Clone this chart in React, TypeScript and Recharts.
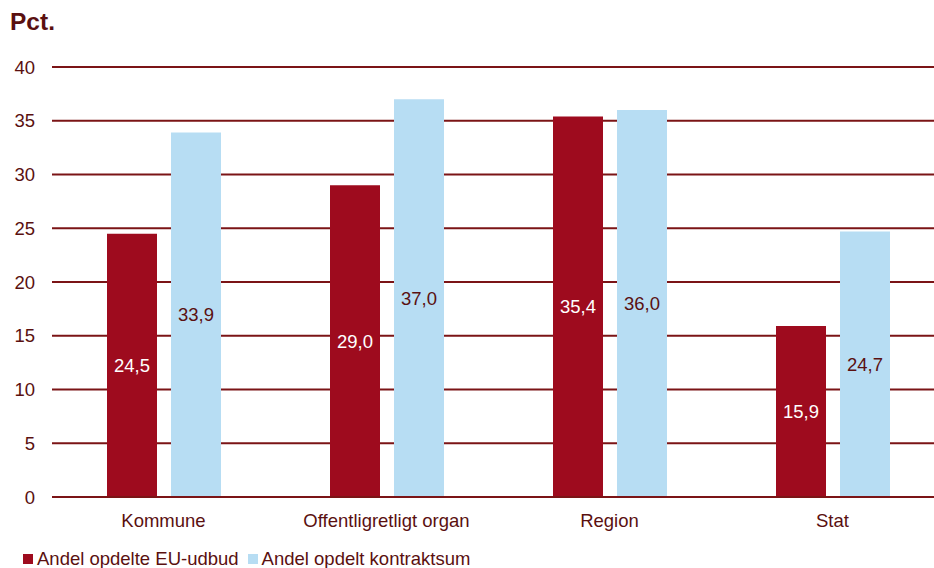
import React from "react"
import { Bar, BarChart, CartesianGrid, LabelList, XAxis, YAxis } from "recharts"

const categories = ["Kommune", "Offentligretligt organ", "Region", "Stat"]
const andelUdbud = [24.5, 29.0, 35.4, 15.9]
const andelKontraktsum = [33.9, 37.0, 36.0, 24.7]
const yTicks = [0, 5, 10, 15, 20, 25, 30, 35, 40]

const RED = "#9e0b1e"
const LIGHT = "#b7ddf3"
const TEXT = "#5a1010"
const GRID = "#7b1416"
const FONT = "'Liberation Sans', Arial, sans-serif"
const FS = 18.5

const data = categories.map((name, i) => ({
    name,
    udbud: andelUdbud[i],
    kontrakt: andelKontraktsum[i],
}))

const fmt = (v: any) => Number(v).toFixed(1).replace(".", ",")

export default function App() {
    return (
        <div
            style={{
                position: "absolute",
                left: 0,
                top: 0,
                width: 934,
                height: 568,
                overflow: "hidden",
                background: "#fff",
                fontFamily: FONT,
            }}
        >
            <div style={{ position: "absolute", left: 10, top: 8, fontSize: 24.5, fontWeight: "bold", color: TEXT }}>
                Pct.
            </div>
            {/* plot runs a little past the right edge, like the original */}
            <BarChart
                width={944}
                height={568}
                data={data}
                margin={{ top: 67, right: 0, bottom: 41, left: 0 }}
                barSize={50}
                barGap={14}
            >
                <CartesianGrid vertical={false} stroke={GRID} strokeWidth={2} />
                <XAxis
                    dataKey="name"
                    height={30}
                    tickLine={false}
                    axisLine={{ stroke: GRID, strokeWidth: 2 }}
                    tick={{ fill: TEXT, fontSize: FS, fontFamily: FONT }}
                    tickMargin={11}
                />
                <YAxis
                    domain={[0, 40]}
                    ticks={yTicks}
                    width={52}
                    tickLine={false}
                    axisLine={false}
                    tickSize={0}
                    tickMargin={17}
                    tick={{ fill: TEXT, fontSize: FS, fontFamily: FONT }}
                />
                <Bar dataKey="udbud" fill={RED} isAnimationActive={false}>
                    <LabelList dataKey="udbud" position="center" formatter={fmt} fill="#ffffff" fontSize={FS} fontFamily={FONT} />
                </Bar>
                <Bar dataKey="kontrakt" fill={LIGHT} isAnimationActive={false}>
                    <LabelList dataKey="kontrakt" position="center" formatter={fmt} fill={TEXT} fontSize={FS} fontFamily={FONT} />
                </Bar>
            </BarChart>
            <div
                style={{
                    position: "absolute",
                    left: 23,
                    top: 548,
                    display: "flex",
                    alignItems: "center",
                    fontSize: FS,
                    color: TEXT,
                    lineHeight: "22px",
                }}
            >
                <span style={{ width: 10, height: 10, background: RED, marginRight: 4 }} />
                <span style={{ marginRight: 9 }}>Andel opdelte EU-udbud</span>
                <span style={{ width: 10, height: 10, background: LIGHT, marginRight: 4 }} />
                <span>Andel opdelt kontraktsum</span>
            </div>
        </div>
    )
}
